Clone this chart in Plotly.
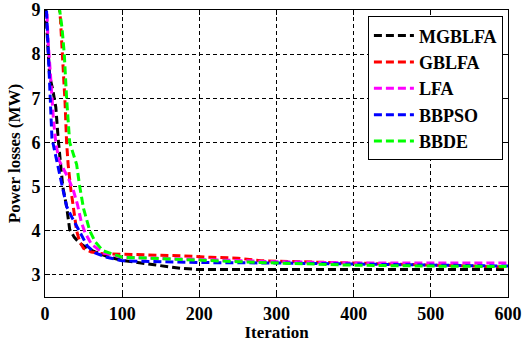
import plotly.graph_objects as go

# ---- data ----
mgblfa_it = [0, 6, 10, 14, 17, 20, 23, 28, 32, 38, 45, 55, 65, 80, 100, 120, 150, 175, 200, 300, 400, 500, 600]
mgblfa_v = [9.3, 7.5, 7.2, 6.8, 6.1, 5.5, 5.0, 4.55, 4.03, 3.85, 3.72, 3.6, 3.52, 3.42, 3.33, 3.28, 3.2, 3.15, 3.12, 3.12, 3.12, 3.12, 3.12]

gblfa_it = [0, 15, 20, 24, 26, 28, 30, 33, 37, 41, 45, 50, 60, 75, 100, 150, 180, 215, 250, 280, 330, 400, 480, 540, 600]
gblfa_v = [11, 9.6, 8.8, 7.6, 6.9, 6.0, 5.5, 5.0, 4.5, 4.0, 3.75, 3.6, 3.52, 3.48, 3.47, 3.45, 3.43, 3.40, 3.38, 3.32, 3.30, 3.27, 3.24, 3.20, 3.18]

lfa_it = [0, 4, 8, 11, 14, 18, 24, 30, 37, 42, 47, 52, 60, 75, 100, 150, 200, 300, 350, 400, 500, 600]
lfa_v = [10, 8.3, 7.3, 6.5, 6.0, 5.6, 5.4, 5.2, 4.9, 4.6, 4.2, 3.95, 3.7, 3.5, 3.4, 3.38, 3.35, 3.3, 3.28, 3.27, 3.27, 3.27]

bbpso_it = [0, 3, 5, 7, 9, 12, 15, 20, 24, 28, 35, 41, 48, 55, 65, 80, 100, 150, 200, 300, 400, 500, 600]
bbpso_v = [9.8, 8.5, 7.5, 6.7, 6.1, 5.85, 5.6, 5.2, 4.9, 4.55, 4.3, 4.1, 3.85, 3.65, 3.5, 3.4, 3.32, 3.3, 3.28, 3.27, 3.25, 3.22, 3.2]

bbde_it = [0, 15, 19, 22, 25, 28, 32, 37, 41, 45, 50, 58, 65, 75, 90, 100, 150, 200, 250, 300, 350, 400, 500, 600]
bbde_v = [11.5, 9.6, 9.0, 8.6, 8.0, 7.0, 6.0, 5.7, 5.5, 5.0, 4.5, 4.0, 3.75, 3.55, 3.45, 3.4, 3.37, 3.33, 3.3, 3.27, 3.25, 3.22, 3.2, 3.19]

names = ["MGBLFA", "GBLFA", "LFA", "BBPSO", "BBDE"]
colors = ["#000000", "#FF0000", "#FF00FF", "#0000FF", "#00FF00"]
series = [(mgblfa_it, mgblfa_v), (gblfa_it, gblfa_v), (lfa_it, lfa_v),
          (bbpso_it, bbpso_v), (bbde_it, bbde_v)]

x_ticks = [0, 100, 200, 300, 400, 500, 600]
y_ticks = [3, 4, 5, 6, 7, 8, 9]

FONT = "Liberation Serif, Times New Roman, serif"

fig = go.Figure()
for name, col, (xs, ys) in zip(names, colors, series):
    fig.add_trace(go.Scatter(
        x=xs, y=ys, mode="lines", name=name,
        line=dict(color=col, width=3, dash="8px,4px"),
    ))

axis_common = dict(
    showline=True, linecolor="black", linewidth=1, mirror="ticks",
    ticks="inside", ticklen=5, tickcolor="black",
    showgrid=True, gridcolor="black", gridwidth=1, griddash="4px,3px",
    zeroline=False, automargin=False,
    tickfont=dict(family=FONT, size=18, color="black", weight="bold"),
)

fig.update_xaxes(range=[0, 600], tickvals=x_ticks,
                 title=dict(text="Iteration", font=dict(family=FONT, size=17, color="black", weight="bold"), standoff=2),
                 **axis_common)
fig.update_yaxes(range=[2.5, 9], tickvals=y_ticks,
                 title=dict(text="Power losses (MW)", font=dict(family=FONT, size=17, color="black", weight="bold"), standoff=6),
                 **axis_common)

fig.update_layout(
    width=526, height=342,
    margin=dict(l=45, r=18, t=10, b=45),
    paper_bgcolor="white", plot_bgcolor="white",
    font=dict(family=FONT, color="black"),
    legend=dict(
        x=0.989, y=0.978, xanchor="right", yanchor="top",
        bgcolor="white", bordercolor="black", borderwidth=1,
        itemwidth=40,
        font=dict(family=FONT, size=18, color="black", weight="bold"),
    ),
)

fig.write_html("out.html", config={"displayModeBar": False},
               post_script="document.body.style.margin='0';")
